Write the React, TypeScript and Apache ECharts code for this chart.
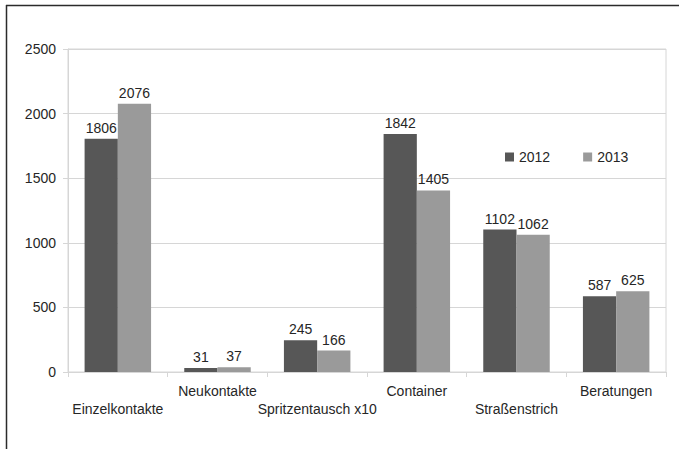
import React, { useEffect, useRef } from "react";
import * as echarts from "echarts";

// Activity counts per service, 2012 vs 2013
const categories = [
  "Einzelkontakte",
  "Neukontakte",
  "Spritzentausch x10",
  "Container",
  "Straßenstrich",
  "Beratungen",
];
const values2012 = [1806, 31, 245, 1842, 1102, 587];
const values2013 = [2076, 37, 166, 1405, 1062, 625];
const seriesNames = ["2012", "2013"];
const yTicks = { min: 0, max: 2500, interval: 500 };

const FONT = "'Liberation Sans', Arial, sans-serif";
const TEXT = "#262626";
const GRID_LINE = "#d6d6d6";

export default function App() {
  const ref = useRef<HTMLDivElement>(null);

  useEffect(() => {
    document.body.style.margin = "0";
    if (!ref.current) return;
    const chart = echarts.init(ref.current, undefined, { renderer: "svg" });

    const barLabel = {
      show: true,
      position: "top" as const,
      distance: 4,
      fontSize: 14,
      fontFamily: FONT,
      color: TEXT,
    };

    chart.setOption({
      animation: false,
      backgroundColor: "#ffffff",
      textStyle: { fontFamily: FONT },
      grid: {
        left: 68,
        right: 13,
        top: 49,
        bottom: 77,
        show: true,
        borderColor: GRID_LINE,
        borderWidth: 1,
        containLabel: false,
      },
      legend: {
        data: seriesNames,
        left: 505,
        top: 150,
        padding: 0,
        itemWidth: 9,
        itemHeight: 9,
        itemGap: 33,
        icon: "rect",
        textStyle: { fontSize: 14, fontFamily: FONT, color: TEXT },
      },
      xAxis: {
        type: "category",
        data: categories,
        boundaryGap: true,
        axisLine: { show: true, lineStyle: { color: GRID_LINE, width: 1 } },
        axisTick: { show: true, length: 5, lineStyle: { color: GRID_LINE } },
        axisLabel: {
          interval: 0,
          hideOverlap: false,
          margin: 10,
          fontSize: 14,
          lineHeight: 18,
          fontFamily: FONT,
          color: TEXT,
          // staggered category names: every other label sits one line lower
          formatter: (value: string, index: number) =>
            index % 2 === 0 ? "\n" + value : value,
        },
        splitLine: { show: false },
      },
      yAxis: {
        type: "value",
        min: yTicks.min,
        max: yTicks.max,
        interval: yTicks.interval,
        axisLine: { show: true, lineStyle: { color: GRID_LINE, width: 1 } },
        axisTick: { show: true, length: 5, lineStyle: { color: GRID_LINE } },
        axisLabel: {
          margin: 12,
          fontSize: 14,
          fontFamily: FONT,
          color: TEXT,
          formatter: (v: number) => String(v),
        },
        splitLine: { show: true, lineStyle: { color: GRID_LINE, width: 1 } },
      },
      series: [
        {
          name: seriesNames[0],
          type: "bar",
          data: values2012,
          barGap: "0%",
          barCategoryGap: "33.3%",
          itemStyle: { color: "#575757" },
          label: barLabel,
        },
        {
          name: seriesNames[1],
          type: "bar",
          data: values2013,
          barGap: "0%",
          barCategoryGap: "33.3%",
          itemStyle: { color: "#9a9a9a" },
          label: barLabel,
        },
      ],
      graphic: [
        {
          type: "line",
          shape: { x1: 6, y1: 5.5, x2: 679, y2: 5.5 },
          style: { stroke: "#2b2b2b", lineWidth: 1.5 },
          silent: true,
        },
        {
          type: "line",
          shape: { x1: 6.5, y1: 5, x2: 6.5, y2: 449 },
          style: { stroke: "#2b2b2b", lineWidth: 1.5 },
          silent: true,
        },
      ],
    });

    return () => chart.dispose();
  }, []);

  return <div ref={ref} style={{ width: 679, height: 449 }} />;
}
